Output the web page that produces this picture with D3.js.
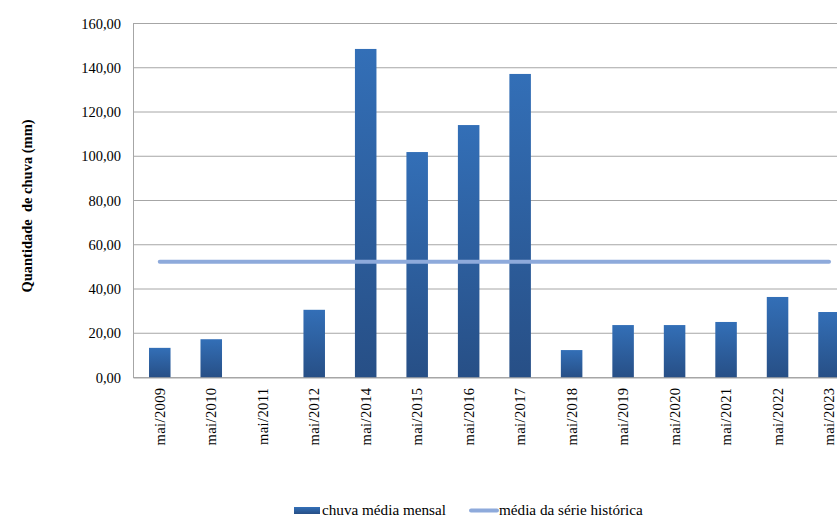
<!DOCTYPE html>
<html><head><meta charset="utf-8">
<script src="https://cdn.jsdelivr.net/npm/d3@7"></script>
<style>body{margin:0;background:#fff;} svg{display:block;} text{font-family:"Liberation Serif","Times New Roman",serif;}</style>
</head><body>
<svg id="c" width="837" height="519"></svg>
<script>
const categories = ["mai/2009","mai/2010","mai/2011","mai/2012","mai/2014","mai/2015","mai/2016","mai/2017","mai/2018","mai/2019","mai/2020","mai/2021","mai/2022","mai/2023"];
const chuvaMensal = [13.4, 17.3, 0, 30.6, 148.5, 101.9, 114.1, 137.2, 12.4, 23.7, 23.7, 25.1, 36.4, 29.6];
const mediaHistorica = [52.3, 52.3, 52.3, 52.3, 52.3, 52.3, 52.3, 52.3, 52.3, 52.3, 52.3, 52.3, 52.3, 52.3];
const yTicks = [0, 20, 40, 60, 80, 100, 120, 140, 160];

(function(){
const svg = d3.select("#c");
const font = "Liberation Serif, Times New Roman, serif";
const mLeft = 133, mTop = 23.5, mBottom = 377.5, mRight = 855.8;

const defs = svg.append("defs");
const g1 = defs.append("linearGradient").attr("id","barGrad").attr("x1",0).attr("y1",0).attr("x2",0).attr("y2",1);
g1.append("stop").attr("offset","0%").attr("stop-color","#336fb7");
g1.append("stop").attr("offset","100%").attr("stop-color","#274f86");

const x = d3.scaleBand().domain(categories).range([mLeft, mRight]).paddingInner(0.582).paddingOuter(0.311);
const y = d3.scaleLinear().domain([0,160]).range([mBottom, mTop]);

svg.append("g").selectAll("line").data(yTicks).join("line")
  .attr("x1", mLeft).attr("x2", 837)
  .attr("y1", d => y(d)).attr("y2", d => y(d))
  .attr("stroke", "#a6a6a6").attr("stroke-width", 1);

const yAxis = svg.append("g").attr("transform", `translate(${mLeft},0)`)
  .call(d3.axisLeft(y).tickValues(yTicks).tickSize(0).tickPadding(12)
    .tickFormat(d => d3.format(".2f")(d).replace(".", ",")));
yAxis.select(".domain").attr("stroke", "#a6a6a6");
yAxis.selectAll("text").attr("font-family", font).attr("font-size", 14.5).attr("fill", "#000");

svg.append("g").selectAll("rect").data(chuvaMensal).join("rect")
  .attr("x", (d,i) => x(categories[i]))
  .attr("width", x.bandwidth())
  .attr("y", d => y(d))
  .attr("height", d => y(0) - y(d))
  .attr("fill", "url(#barGrad)");

const xAxis = svg.append("g").attr("transform", `translate(0,${mBottom})`)
  .call(d3.axisBottom(x).tickSize(0).tickPadding(0));
xAxis.select(".domain").attr("stroke", "#a6a6a6");
xAxis.selectAll("text")
  .attr("font-family", font).attr("font-size", 14.5).attr("fill", "#000")
  .attr("transform", "rotate(-90)")
  .attr("text-anchor", "end").attr("dy", "0.35em").attr("x", -10).attr("y", 0)
  .attr("letter-spacing", 0.4);

const line = d3.line().x((d,i) => x(categories[i]) + x.bandwidth()/2).y(d => y(d));
svg.append("path").datum(mediaHistorica).attr("d", line)
  .attr("fill", "none").attr("stroke", "#8eaadb").attr("stroke-width", 4).attr("stroke-linecap","round");

svg.append("text").attr("transform", "translate(32,206) rotate(-90)")
  .attr("text-anchor", "middle").attr("font-family", font).attr("font-size", 14.5)
  .attr("font-weight", "bold").attr("xml:space","preserve").text("Quantidade  de chuva (mm)");

const lg = svg.append("g");
lg.append("rect").attr("x", 294).attr("y", 507).attr("width", 26).attr("height", 7).attr("fill", "url(#barGrad)");
lg.append("text").attr("x", 322).attr("y", 515).attr("font-family", font).attr("font-size", 15.2).text("chuva média mensal");
lg.append("line").attr("x1", 471).attr("x2", 497).attr("y1", 510.5).attr("y2", 510.5)
  .attr("stroke", "#8eaadb").attr("stroke-width", 4).attr("stroke-linecap","round");
lg.append("text").attr("x", 499).attr("y", 515).attr("font-family", font).attr("font-size", 15.2).text("média da série histórica");
})();
</script>
</body></html>
